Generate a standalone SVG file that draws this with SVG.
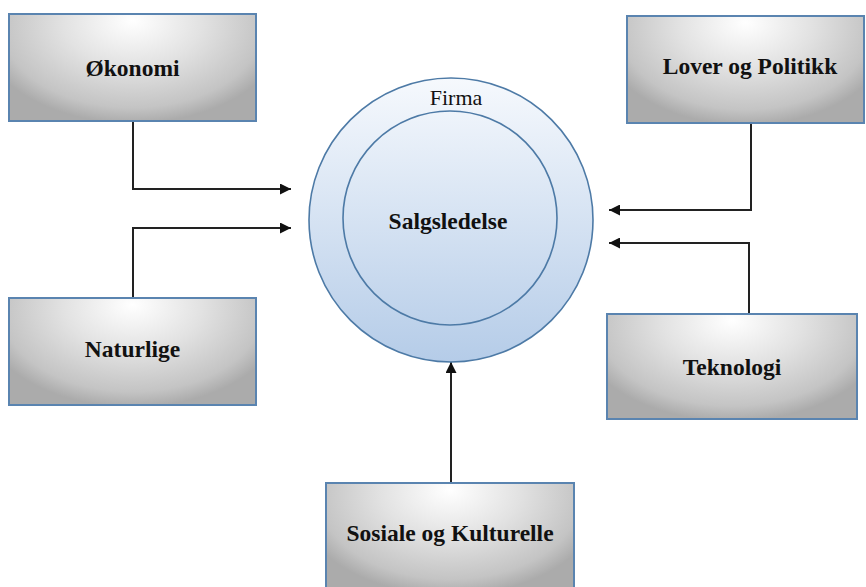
<svg xmlns="http://www.w3.org/2000/svg" width="866" height="587" viewBox="0 0 866 587">
  <defs>
    <radialGradient id="boxFill" cx="50%" cy="12%" r="62%" fx="50%" fy="8%" gradientTransform="translate(0.5 0.12) scale(1 1.45) translate(-0.5 -0.12)">
      <stop offset="0" stop-color="#ffffff"/>
      <stop offset="0.45" stop-color="#e2e2e2"/>
      <stop offset="0.85" stop-color="#c4c4c4"/>
      <stop offset="1" stop-color="#ababab"/>
    </radialGradient>
    <linearGradient id="circleFill" x1="0" y1="0" x2="0" y2="1">
      <stop offset="0" stop-color="#f6f9fd"/>
      <stop offset="1" stop-color="#b5cce8"/>
    </linearGradient>
    <marker id="arrow" viewBox="0 0 10 10" refX="10" refY="5" markerWidth="12" markerHeight="11" markerUnits="userSpaceOnUse" orient="auto">
      <path d="M0,0 L10,5 L0,10 z" fill="#111"/>
    </marker>
  </defs>
  <style>
    .box { fill: url(#boxFill); stroke: #5a84b0; stroke-width: 2; }
    .label { font-family: "Liberation Serif", "Times New Roman", serif; font-weight: bold; font-size: 23.5px; fill: #111; text-anchor: middle; dominant-baseline: central; }
    .title { font-family: "Liberation Serif", "Times New Roman", serif; font-size: 22px; fill: #111; text-anchor: middle; dominant-baseline: central; }
    .ring { fill: url(#circleFill); stroke: #4d7aa6; stroke-width: 1.6; }
    .inner { fill: none; stroke: #4d7aa6; stroke-width: 1.6; }
    .conn { fill: none; stroke: #222; stroke-width: 2; marker-end: url(#arrow); }
  </style>

  <rect width="866" height="587" fill="#ffffff"/>

  <!-- connectors -->
  <g id="connectors">
    <polyline class="conn" points="133,121 133,189 291,189"/>
    <polyline class="conn" points="133,298 133,228 291,228"/>
    <polyline class="conn" points="751,123 751,210 609,210"/>
    <polyline class="conn" points="749,314 749,243 609,243"/>
    <polyline class="conn" points="451,483 451,362"/>
  </g>

  <!-- central firm -->
  <g id="firma">
    <circle class="ring" cx="451" cy="220" r="142"/>
    <text class="title" x="456" y="97">Firma</text>
  </g>
  <g id="salgsledelse">
    <circle class="inner" cx="450" cy="218" r="107"/>
    <text class="label" x="448" y="221">Salgsledelse</text>
  </g>

  <g id="okonomi">
    <rect class="box" x="9" y="14" width="247" height="107"/>
    <text class="label" x="132.5" y="68">Økonomi</text>
  </g>
  <g id="lover">
    <rect class="box" x="627" y="16" width="237" height="107"/>
    <text class="label" x="750" y="66">Lover og Politikk</text>
  </g>
  <g id="naturlige">
    <rect class="box" x="9" y="298" width="247" height="107"/>
    <text class="label" x="132.5" y="349">Naturlige</text>
  </g>
  <g id="teknologi">
    <rect class="box" x="607" y="314" width="250" height="105"/>
    <text class="label" x="732" y="367">Teknologi</text>
  </g>
  <g id="sosiale">
    <rect class="box" x="326" y="483" width="248" height="110"/>
    <text class="label" x="450" y="533">Sosiale og Kulturelle</text>
  </g>
</svg>
